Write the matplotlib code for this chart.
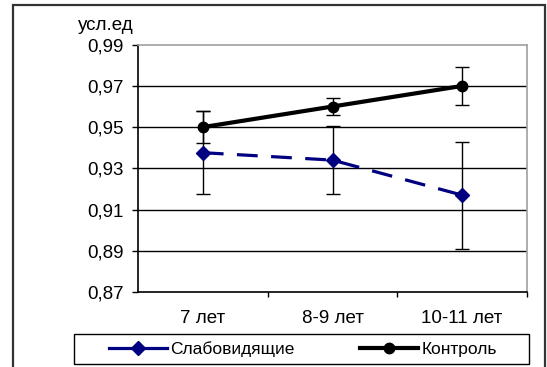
import matplotlib
matplotlib.use("Agg")
import matplotlib.pyplot as plt
from matplotlib.patches import Rectangle
from matplotlib.lines import Line2D
import numpy as np

categories = ["7 лет", "8-9 лет", "10-11 лет"]
weak = [0.9376, 0.934, 0.917]
weak_err = [0.020, 0.0165, 0.026]
control = [0.950, 0.960, 0.970]
control_err = [0.0076, 0.004, 0.0094]
yticks = [0.87, 0.89, 0.91, 0.93, 0.95, 0.97, 0.99]
ytick_labels = ["0,87", "0,89", "0,91", "0,93", "0,95", "0,97", "0,99"]
series_names = ["Слабовидящие", "Контроль"]
ylabel = "усл.ед"

plt.rcParams['font.family'] = ['Liberation Sans', 'DejaVu Sans']
FS = 13.5
LFS = 12.5

W, H = 547, 367
fig = plt.figure(figsize=(W / 100, H / 100), dpi=100)
fig.patch.set_facecolor("white")

def fx(px):
    return px / W

def fy(py):
    return 1 - py / H

# outer chart frame
fig.patches.append(Rectangle((fx(13), fy(372)), fx(545) - fx(13), fy(5) - fy(372),
                             transform=fig.transFigure, fill=False,
                             edgecolor="#333333", lw=1.6, zorder=0))

ax = fig.add_axes([fx(138), fy(292), fx(527) - fx(138), fy(44.7) - fy(292)])
x = np.arange(len(categories))

ax.set_ylim(0.87, 0.99)
ax.set_xlim(-0.5, len(categories) - 0.5)
ax.set_yticks(yticks)
ax.set_yticklabels(ytick_labels, fontsize=FS)
for yv in yticks[1:-1]:
    ax.axhline(yv, color="black", lw=1.0, zorder=1)

ax.errorbar(x, control, yerr=control_err, fmt="none", ecolor="black",
            elinewidth=1.0, capsize=5, capthick=1.0, zorder=2)
ax.errorbar(x, weak, yerr=weak_err, fmt="none", ecolor="black",
            elinewidth=1.0, capsize=5, capthick=1.0, zorder=2)

ax.plot(x, weak, color="#000080", lw=2.3, dashes=(6.5, 4.2),
        marker="D", markersize=7, markerfacecolor="#000080",
        markeredgecolor="#000080", zorder=3, label=series_names[0])
ax.plot(x, control, color="black", lw=3.0, marker="o", markersize=7.5,
        markerfacecolor="black", markeredgecolor="black", zorder=4,
        label=series_names[1])

ax.set_xticks(x)
ax.set_xticklabels(categories, fontsize=FS)
ax.set_xticks(np.arange(len(categories)) + 0.5, minor=True)
ax.tick_params(axis="x", which="major", length=0, pad=13)
ax.tick_params(axis="x", which="minor", length=3.5, width=1, direction="out")
ax.tick_params(axis="y", which="major", length=4.5, width=1, direction="out", pad=6)

ax.spines["left"].set_color("black")
ax.spines["bottom"].set_color("black")
ax.spines["top"].set_color("#a0a0a0")
ax.spines["right"].set_color("#a0a0a0")
for s in ax.spines.values():
    s.set_linewidth(1.2)

fig.text(fx(106), fy(25), ylabel, fontsize=FS, ha="center", va="center")

# legend
fig.patches.append(Rectangle((fx(74), fy(364)), fx(529) - fx(74), fy(334) - fy(364),
                             transform=fig.transFigure, fill=False,
                             edgecolor="black", lw=1.0, zorder=1))
handles = [
    Line2D([], [], color="#000080", lw=2.3, marker="D", markersize=7,
           markerfacecolor="#000080"),
    Line2D([], [], color="black", lw=3.0, marker="o", markersize=7.5,
           markerfacecolor="black"),
]
fig.legend(handles, series_names, loc="center", bbox_to_anchor=(fx(303), fy(349)),
           ncol=2, frameon=False, fontsize=LFS, handlelength=3.3,
           handletextpad=0.2, columnspacing=3.8, borderpad=0.2)

fig.savefig("out.png", dpi=100, facecolor="white")
